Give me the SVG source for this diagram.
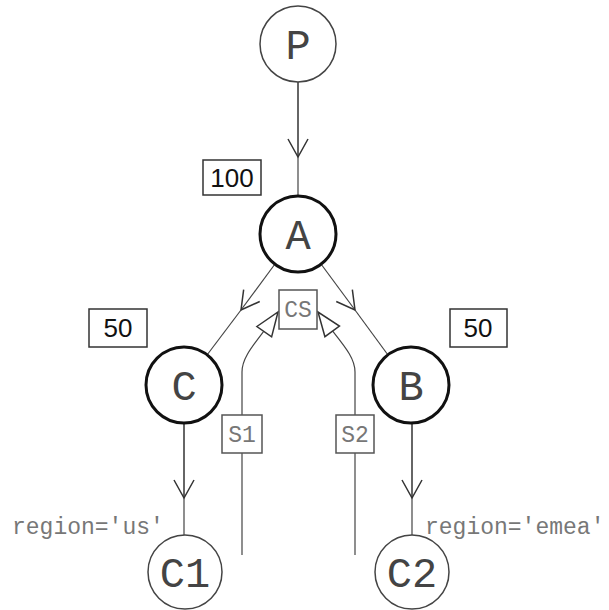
<svg xmlns="http://www.w3.org/2000/svg" width="609" height="610" viewBox="0 0 609 610">
<style>
.bg{fill:#fff}
.thin{fill:#fff;stroke:#444;stroke-width:1.5}
.thick{fill:#fff;stroke:#111;stroke-width:3}
.lbl{font-family:"Liberation Mono",monospace;font-size:42px;fill:#444;text-anchor:middle}
.box{fill:#fff;stroke:#333;stroke-width:1.5}
.num{font-family:"Liberation Sans",Arial,sans-serif;font-size:26px;fill:#111;text-anchor:middle}
.mono{font-family:"Liberation Mono",monospace;font-size:23px;fill:#777}
.sbox{fill:#fff;stroke:#555;stroke-width:1.5}
.edge{fill:none;stroke:#333;stroke-width:1.5}
.edge2{fill:none;stroke:#444;stroke-width:1.2}
</style>
<defs>
<marker id="v" markerUnits="userSpaceOnUse" markerWidth="40" markerHeight="40" viewBox="-20 -20 40 40" refX="0" refY="0" orient="auto" overflow="visible">
<path d="M-18,-10 L0,0 L-18,10" fill="none" stroke="#333" stroke-width="1.5"/>
</marker>
<marker id="h" markerUnits="userSpaceOnUse" markerWidth="40" markerHeight="40" viewBox="-30 -20 40 40" refX="0" refY="0" orient="auto" overflow="visible">
<path d="M-24,-9 L0,0 L-24,9 Z" fill="#fff" stroke="#333" stroke-width="1.5"/>
</marker>
</defs>
<rect class="bg" x="0" y="0" width="609" height="610"/>
<g id="connectors">
<path class="edge" d="M298,82 L298,157" marker-end="url(#v)"/>
<path class="edge2" d="M298,157 L298,196"/>
<path class="edge2" d="M275,264 L241,310" marker-end="url(#v)"/>
<path class="edge2" d="M241,310 L207,355"/>
<path class="edge2" d="M321,264 L355,310" marker-end="url(#v)"/>
<path class="edge2" d="M355,310 L388,355"/>
<path class="edge" d="M184,423 L184,498" marker-end="url(#v)"/>
<path class="edge2" d="M184,498 L184,535"/>
<path class="edge" d="M412,423 L412,498" marker-end="url(#v)"/>
<path class="edge2" d="M412,498 L412,535"/>
<path class="edge2" d="M242,415 L242,372 C242,355 257,342 278,312" marker-end="url(#h)"/>
<path class="edge2" d="M242,453 L242,555"/>
<path class="edge2" d="M355,415 L355,372 C355,355 340,342 318,312" marker-end="url(#h)"/>
<path class="edge2" d="M355,453 L355,555"/>
</g>
<g id="node-P"><circle class="thin" cx="298" cy="44" r="38"/><text class="lbl" x="298" y="59">P</text></g>
<g id="node-A"><circle class="thick" cx="298" cy="234" r="38"/><text class="lbl" x="298" y="249">A</text></g>
<g id="node-C"><circle class="thick" cx="184" cy="385" r="38"/><text class="lbl" x="184" y="400">C</text></g>
<g id="node-B"><circle class="thick" cx="411" cy="385" r="38"/><text class="lbl" x="411" y="400">B</text></g>
<g id="node-C1"><circle class="thin" cx="185" cy="572" r="37"/><text class="lbl" x="185" y="587">C1</text></g>
<g id="node-C2"><circle class="thin" cx="412" cy="572" r="37"/><text class="lbl" x="412" y="587">C2</text></g>
<g id="w100"><rect class="box" x="203" y="160" width="58" height="35"/><text class="num" x="232" y="187">100</text></g>
<g id="w50a"><rect class="box" x="89" y="309" width="58" height="38"/><text class="num" x="118" y="337">50</text></g>
<g id="w50b"><rect class="box" x="450" y="309" width="57" height="38"/><text class="num" x="478" y="337">50</text></g>
<g id="CS"><rect class="sbox" x="279" y="290" width="38" height="39"/><text class="mono" x="298" y="317" text-anchor="middle">CS</text></g>
<g id="S1"><rect class="sbox" x="222" y="415" width="40" height="38"/><text class="mono" x="242" y="442" text-anchor="middle">S1</text></g>
<g id="S2"><rect class="sbox" x="336" y="415" width="38" height="38"/><text class="mono" x="355" y="442" text-anchor="middle">S2</text></g>
<g id="labels">
<text class="mono" x="12" y="534">region='us'</text>
<text class="mono" x="425" y="534">region='emea'</text>
</g>
</svg>
